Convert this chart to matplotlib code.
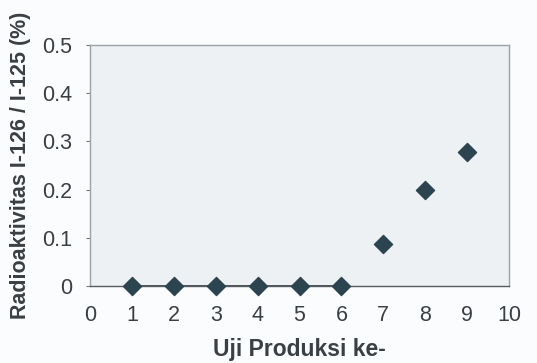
import matplotlib
matplotlib.use("Agg")
import matplotlib.pyplot as plt

# data
uji = [1, 2, 3, 4, 5, 6, 7, 8, 9]
rasio = [0, 0, 0, 0, 0, 0, 0.088, 0.2, 0.278]

plt.rcParams['font.family'] = ['Liberation Sans', 'DejaVu Sans']

fig = plt.figure(figsize=(5.37, 3.63), dpi=100)
fig.patch.set_facecolor('#fbfcfd')
ax = fig.add_axes([90/537, 1-286/363, 419/537, 241/363])
ax.set_facecolor('#eef1f4')

ax.plot(uji[:6], rasio[:6], color='#2b3a40', lw=1.2, zorder=2)
ax.scatter(uji, rasio, marker='D', s=85, color='#2c4450', zorder=3, clip_on=False)

ax.set_xlim(0, 10)
ax.set_ylim(0, 0.5)
ax.set_xticks(range(0, 11))
ax.set_yticks([0, 0.1, 0.2, 0.3, 0.4, 0.5])
ax.set_yticklabels(['0', '0.1', '0.2', '0.3', '0.4', '0.5'])
ax.tick_params(axis='both', labelsize=15.5, labelcolor='#3a3f44', color='#777777')
ax.tick_params(axis='x', length=0, pad=14)
ax.tick_params(axis='y', length=3, pad=10)
for s in ax.spines.values():
    s.set_color('#9aa3a8')
    s.set_linewidth(1.0)
ax.spines['bottom'].set_color('#555b5f')

ax.set_xlabel('Uji Produksi ke-', fontsize=16.5, fontweight='bold', color='#3a3f44', labelpad=8)
ax.set_ylabel('Radioaktivitas I-126 / I-125 (%)', fontsize=15.5, fontweight='bold', color='#3a3f44', labelpad=8)

fig.savefig('out.png', dpi=100, facecolor=fig.get_facecolor())
